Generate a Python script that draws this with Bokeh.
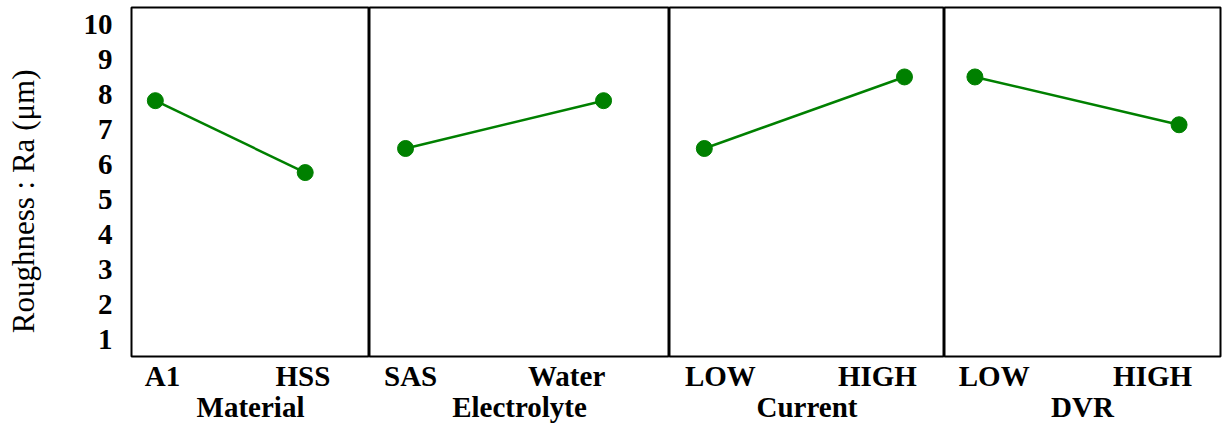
from bokeh.plotting import figure
from bokeh.layouts import row
from bokeh.models import Range1d, FixedTicker
from bokeh.embed import file_html
from bokeh.resources import INLINE

# ---- data ----
factors = ["Material", "Electrolyte", "Current", "DVR"]
material_levels = ["A1", "HSS"]
electrolyte_levels = ["SAS", "Water"]
current_levels = ["LOW", "HIGH"]
dvr_levels = ["LOW", "HIGH"]
material_ra = [7.83, 5.77]
electrolyte_ra = [6.46, 7.83]
current_ra = [6.46, 8.51]
dvr_ra = [8.51, 7.14]
y_ticks = [1, 2, 3, 4, 5, 6, 7, 8, 9, 10]

levels = [material_levels, electrolyte_levels, current_levels, dvr_levels]
values = [material_ra, electrolyte_ra, current_ra, dvr_ra]

# ---- layout ----
plot_widths = [238, 300, 275, 276]
x_windows = [(-0.159, 1.429), (-0.182, 1.333), (-0.174, 1.200), (-0.149, 1.203)]
# where the level names sit inside each panel (fraction of panel width)
label_fracs = [(0.13, 0.72), (0.137, 0.657), (0.185, 0.756), (0.18, 0.754)]
left_border = 131
top_border = 7
plot_h = 350
bottom_border = 68
FONT = "Liberation Serif"
GREEN = "#008000"

y_range = Range1d(0.5, 10.5)
figs = []
for i in range(4):
    first = i == 0
    last = i == 3
    w = plot_widths[i] + (left_border if first else 0) + (2 if last else 0)
    x0, x1 = x_windows[i]
    p = figure(width=w, height=top_border + plot_h + bottom_border,
               x_range=Range1d(x0, x1), y_range=y_range,
               output_backend="svg", toolbar_location=None,
               y_axis_location="left" if first else None,
               min_border_left=left_border if first else 0,
               min_border_right=2 if last else 0,
               min_border_top=top_border, min_border_bottom=bottom_border)
    p.grid.visible = False
    p.outline_line_color = "black"
    p.outline_line_width = 2
    p.background_fill_color = "white"
    p.border_fill_color = "white"

    xs = list(range(len(levels[i])))
    p.line(xs, values[i], line_color=GREEN, line_width=2.5)
    p.scatter(xs, values[i], size=16, fill_color=GREEN, line_color=GREEN)

    tick_pos = [round(x0 + f * (x1 - x0), 4) for f in label_fracs[i]]
    xa = p.xaxis[0]
    xa.ticker = FixedTicker(ticks=tick_pos)
    xa.major_label_overrides = {t: lab for t, lab in zip(tick_pos, levels[i])}
    xa.axis_line_color = None
    xa.major_tick_line_color = None
    xa.minor_tick_line_color = None
    xa.major_label_text_font = FONT
    xa.major_label_text_font_style = "bold"
    xa.major_label_text_font_size = "29px"
    xa.major_label_text_color = "black"
    xa.major_label_standoff = -3
    xa.axis_label = factors[i]
    xa.axis_label_text_font = FONT
    xa.axis_label_text_font_style = "bold"
    xa.axis_label_text_font_size = "29px"
    xa.axis_label_text_color = "black"
    xa.axis_label_standoff = -4

    if first:
        ya = p.yaxis[0]
        ya.ticker = FixedTicker(ticks=y_ticks)
        ya.axis_line_color = None
        ya.major_tick_line_color = None
        ya.minor_tick_line_color = None
        ya.major_label_text_font = FONT
        ya.major_label_text_font_style = "bold"
        ya.major_label_text_font_size = "29px"
        ya.major_label_text_color = "black"
        ya.major_label_standoff = 13
        ya.axis_label = "Roughness : Ra (\u03bcm)" + "\u00a0" * 5
        ya.axis_label_text_font = FONT
        ya.axis_label_text_font_style = "normal"
        ya.axis_label_text_font_size = "31px"
        ya.axis_label_text_color = "black"
        ya.axis_label_standoff = 40
    figs.append(p)

layout = row(*figs)
open("out.html", "w").write(file_html(layout, INLINE))
